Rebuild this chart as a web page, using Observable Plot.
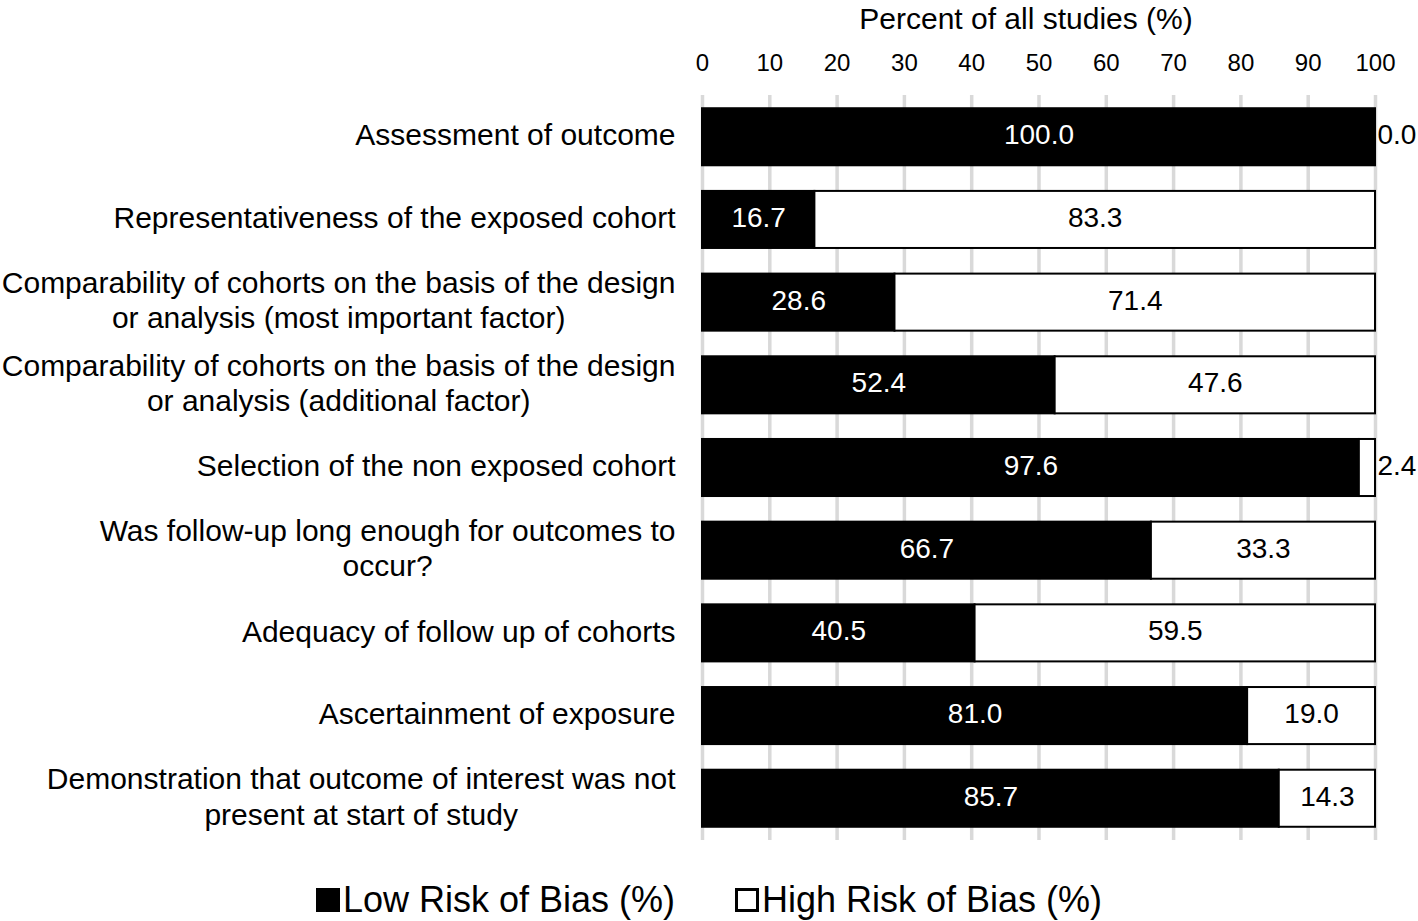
<!DOCTYPE html>
<html>
<head>
<meta charset="utf-8">
<script src="https://cdn.jsdelivr.net/npm/d3@7"></script>
<script src="https://cdn.jsdelivr.net/npm/@observablehq/plot@0.6"></script>
<style>
  html, body { margin: 0; padding: 0; background: #fff; }
  body { width: 1418px; font-family: "Liberation Sans", Arial, sans-serif; }
  #legend { display: flex; justify-content: center; align-items: center; gap: 60px; margin-top: 15px; height: 40px; font-size: 36px; color: #000; }
  .item { display: flex; align-items: center; }
  .sw { width: 24px; height: 24px; box-sizing: border-box; margin-right: 3px; }
</style>
</head>
<body>
<div id="chart"></div>
<div id="legend">
  <div class="item"><div class="sw" style="background:#000"></div><span>Low Risk of Bias (%)</span></div>
  <div class="item"><div class="sw" style="background:#fff;border:3px solid #000"></div><span>High Risk of Bias (%)</span></div>
</div>
<script>
const categories = [
  "Assessment of outcome",
  "Representativeness of the exposed cohort",
  "Comparability of cohorts on the basis of the design\nor analysis (most important factor)",
  "Comparability of cohorts on the basis of the design\nor analysis (additional factor)",
  "Selection of the non exposed cohort",
  "Was follow-up long enough for outcomes to\noccur?",
  "Adequacy of follow up of cohorts",
  "Ascertainment of exposure",
  "Demonstration that outcome of interest was not\npresent at start of study"
];
const lowRisk  = [100.0, 16.7, 28.6, 52.4, 97.6, 66.7, 40.5, 81.0, 85.7];
const highRisk = [0.0, 83.3, 71.4, 47.6, 2.4, 33.3, 59.5, 19.0, 14.3];
const xTicks = [0, 10, 20, 30, 40, 50, 60, 70, 80, 90, 100];
const axisTitle = "Percent of all studies (%)";

const data = categories.map((c, i) => ({cat: c, low: lowRisk[i], high: highRisk[i]}));

const plot = Plot.plot({
  width: 1418,
  height: 865,
  marginLeft: 702,
  marginRight: 43,
  marginTop: 95,
  marginBottom: 25,
  style: {fontFamily: '"Liberation Sans", Arial, sans-serif', color: "#000", background: "#fff"},
  x: {domain: [0, 100]},
  y: {domain: categories, paddingInner: 0.31, paddingOuter: 0.16, round: false},
  marks: [
    Plot.gridX(xTicks, {stroke: "#d9d9d9", strokeOpacity: 1, strokeWidth: 3.5}),
    Plot.axisX({anchor: "top", ticks: xTicks, tickSize: 0, tickPadding: 25, fontSize: 24, label: null}),
    Plot.axisY({tickSize: 0, tickPadding: 27, fontSize: 30, lineHeight: 1.17, dy: -3, label: null}),
    Plot.text([axisTitle], {x: 50, frameAnchor: "top", lineAnchor: "top", dy: -88, dx: -13, text: d => d, fontSize: 30, fill: "#000"}),
    Plot.barX(data, {x1: 0, x2: "low", y: "cat", fill: "#000", stroke: "#000", strokeWidth: 2}),
    Plot.barX(data, {x1: "low", x2: d => d.low + d.high, y: "cat", fill: "#fff", stroke: "#000", strokeWidth: 2}),
    Plot.text(data, {x: d => d.low / 2, y: "cat", text: d => d.low.toFixed(1), fill: "#fff", fontSize: 28, dy: -2}),
    Plot.text(data.filter(d => d.high >= 5), {x: d => d.low + d.high / 2, y: "cat", text: d => d.high.toFixed(1), fill: "#000", fontSize: 28, dy: -2}),
    Plot.text(data.filter(d => d.high < 5), {x: d => d.low + d.high, y: "cat", text: d => d.high.toFixed(1), fill: "#000", fontSize: 28, textAnchor: "start", dx: 2, dy: -2})
  ]
});
document.getElementById("chart").appendChild(plot);

// center-align multi-line category labels within their block (right edge kept at the axis)
plot.querySelectorAll('g[aria-label="y-axis tick label"] text').forEach(t => {
  const spans = t.querySelectorAll("tspan");
  if (spans.length < 2) return;
  const w = Math.max(...Array.from(spans).map(s => s.getComputedTextLength()));
  t.setAttribute("text-anchor", "middle");
  spans.forEach(s => s.setAttribute("x", -w / 2));
});
</script>
</body>
</html>
